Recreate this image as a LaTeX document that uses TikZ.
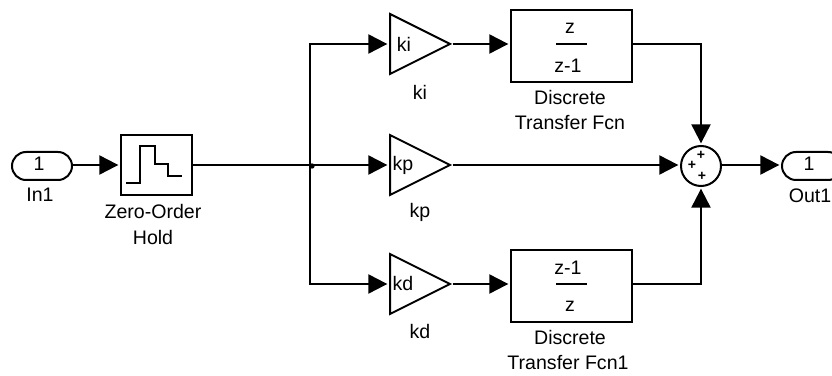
\documentclass[tikz,border=0pt]{standalone}
\usepackage{fontspec}
\setmainfont{Liberation Sans}
\usetikzlibrary{arrows.meta,shapes.geometric,shapes.misc}
\tikzset{
  wire/.style={line width=0.065cm},
  signal/.style={wire,-{Triangle[length=0.57cm,width=0.57cm]},shorten >=0.05cm},
  blockbox/.style={draw,line width=0.06cm,inner sep=0pt},
  gainbox/.style={draw,line width=0.06cm,inner sep=0pt,anchor=lower side,isosceles triangle,isosceles triangle stretches,minimum width=1.8cm,minimum height=1.8cm},
  port/.style={draw,line width=0.06cm,rounded rectangle,minimum width=1.8cm,minimum height=0.84cm,inner sep=0pt},
  tag/.style={inner sep=0pt,font=\fontsize{16.7}{20}\selectfont},
  signmark/.style={inner sep=0pt,font=\fontsize{12}{12}\selectfont\bfseries}
}
\begin{document}
\begin{tikzpicture}[x=0.03cm,y=-0.03cm]
\useasboundingbox (0,0) rectangle (832,376);
% Input and hold
\node[port] (in1) at (42,166) {};
\node[tag] (in1value) at (39,164) {1};
\node[tag] (in1label) at (40,195) {In1};
\node[blockbox,minimum width=2.13cm,minimum height=1.8cm] (zoh) at (156.5,165) {};
\node[tag] (zohlabel1) at (153,212) {Zero-Order};
\node[tag] (zohlabel2) at (153,238) {Hold};
\draw[line width=0.06cm] (126,183) -- (140,183) -- (140,146) -- (155,146) -- (155,164) -- (168,164) -- (168,176) -- (182,176);
% Gains
\node[gainbox] (ki) at (389,44) {};
\node[gainbox] (kp) at (389,165) {};
\node[gainbox] (kd) at (389,284) {};
\node[tag] (kitext) at (404,44) {ki};
\node[tag] (kptext) at (403,165) {kp};
\node[tag] (kdtext) at (403,284) {kd};
\node[tag] (kilabel) at (420,92) {ki};
\node[tag] (kplabel) at (420,212) {kp};
\node[tag] (kdlabel) at (420,332) {kd};
% Transfer functions
\node[blockbox,minimum width=3.63cm,minimum height=2.16cm] (tf1) at (571.5,46) {};
\node[tag] (tf1num) at (570,28) {z};
\node[tag] (tf1den) at (568,66) {z-1};
\node[blockbox,minimum width=3.63cm,minimum height=2.16cm] (tf2) at (571.5,286) {};
\node[tag] (tf2num) at (568,268) {z-1};
\node[tag] (tf2den) at (570,306) {z};
\draw[line width=0.06cm] (556,44) -- (587,44);
\draw[line width=0.06cm] (556,284) -- (587,284);
\node[tag] (tf1label1) at (570,98) {Discrete};
\node[tag] (tf1label2) at (570,123) {Transfer Fcn};
\node[tag] (tf2label1) at (570,338) {Discrete};
\node[tag] (tf2label2) at (568,363) {Transfer Fcn1};
% Sum and output
\node[circle,draw,line width=0.06cm,minimum size=1.2cm,inner sep=0pt] (sum) at (701,166) {};
\node[signmark] (sign1) at (701,155) {+};
\node[signmark] (sign2) at (692,165) {+};
\node[signmark] (sign3) at (702,176) {+};
\node[port] (out1) at (812,166) {};
\node[tag] (out1value) at (809,164) {1};
\node[tag] (out1label) at (810,196) {Out1};
% Wires
\coordinate (branch) at (310,165);
\draw[signal] (in1.east |- branch) -- (zoh.west |- branch);
\draw[wire] (zoh.east |- branch) -- (branch);
\draw[signal] (branch) |- (ki.lower side);
\draw[signal] (branch) -- (kp.lower side);
\draw[signal] (branch) |- (kd.lower side);
\node[fill,circle,inner sep=0pt,minimum size=0.16cm] (tap) at (312,166) {};
\draw[signal] (ki.apex) -- (tf1.west |- ki.apex);
\draw[signal] (kd.apex) -- (tf2.west |- kd.apex);
\draw[signal] (kp.apex) -- (sum.west |- kp.apex);
\draw[signal] (tf1.east |- ki.apex) -| (sum.north);
\draw[signal] (tf2.east |- kd.apex) -| (sum.south);
\draw[signal] (sum.east |- branch) -- (out1.west |- branch);
\end{tikzpicture}
\end{document}
